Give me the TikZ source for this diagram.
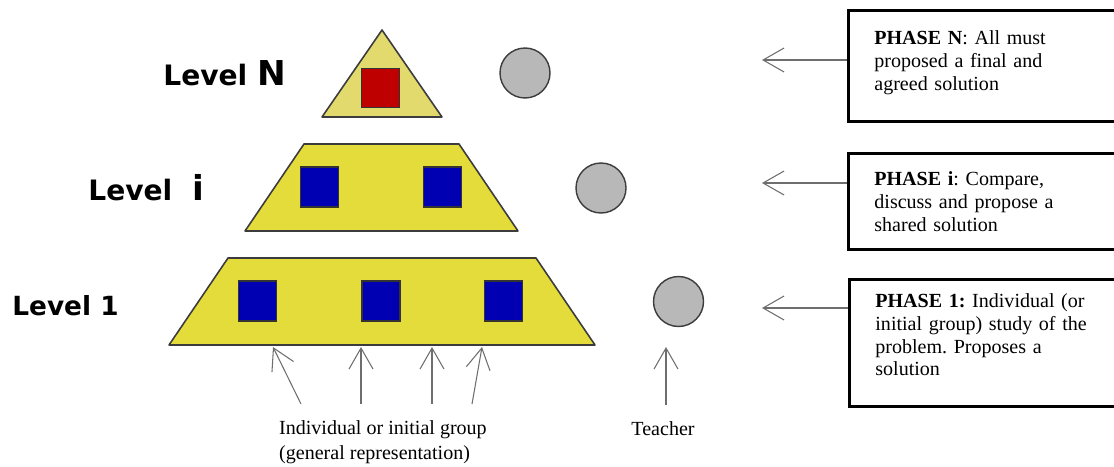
\documentclass[tikz,border=0pt]{standalone}
\usepackage{fontspec}
\setmainfont{Liberation Serif}
\newfontfamily\levelfont{DejaVu Sans}
\usetikzlibrary{arrows.meta}
\definecolor{pyryellow}{RGB}{228,220,58}
\definecolor{topyellow}{RGB}{226,218,108}
\definecolor{grpblue}{RGB}{0,0,178}
\definecolor{grpred}{RGB}{190,0,0}
\definecolor{tutorgray}{RGB}{184,184,184}
\definecolor{edgegray}{RGB}{60,60,60}
\definecolor{arrowgray}{RGB}{110,110,110}
\tikzset{
  level shape/.style={draw=edgegray, line width=0.9pt, line join=round},
  group box/.style={draw=black!80, fill=grpblue, line width=0.8pt, inner sep=0pt,
    minimum width=0.76cm, minimum height=0.8cm},
  tutor/.style={circle, draw=edgegray, fill=tutorgray, line width=0.8pt,
    inner sep=0pt, minimum size=1cm},
  phase box/.style={draw, line width=1.6pt, anchor=north west, align=left,
    text width=5.3cm, inner xsep=0.52cm, inner ysep=0pt,
    font=\frenchspacing\fontsize{11.4}{13}\selectfont},
  barb/.style={draw=arrowgray, line width=0.6pt,
    -{Straight Barb[length=4.2mm, width=4.8mm]}},
  level label/.style={anchor=base west, inner sep=0pt,
    font=\levelfont\bfseries\fontsize{16}{18}\selectfont},
}

\begin{document}
\begin{tikzpicture}[x=0.02cm, y=-0.02cm]
  \useasboundingbox (0,0) rectangle (1114,466);
  \clip (0,0) rectangle (1114,466);
  % pyramid levels
  \draw[level shape, fill=topyellow] (322,117) -- (382,30) -- (442,117) -- cycle;
  \draw[level shape, fill=pyryellow] (245,231) -- (304,144) -- (459,144) -- (518,231) -- cycle;
  \draw[level shape, fill=pyryellow] (169,345) -- (228,258) -- (536,258) -- (595,345) -- cycle;
  \node[group box, fill=grpred, minimum height=0.78cm] (gN) at (380.5,88) {};
  \node[group box] (gi1) at (319.5,187) {};
  \node[group box] (gi2) at (442.5,187) {};
  \foreach \x/\n in {257.5/1, 381/2, 503.5/3}{
    \node[group box] (g1\n) at (\x,301) {};
  }
  % teacher at each level
  \node[tutor] (tN) at (525,73) {};
  \node[tutor] (ti) at (601,188) {};
  \node[tutor] (t1) at (678.5,301.5) {};
  % level names
  \node[level label] (lvlN) at (163,86) {Level {\fontsize{19.5}{20}\selectfont N}};
  \node[level label] (lvli) at (88,200) {Level\hspace{0.2cm} {\fontsize{19.5}{20}\selectfont i}};
  \node[level label, font=\levelfont\bfseries\fontsize{15}{17}\selectfont] (lvl1) at (12,315) {Level 1};
  % phases
  \node[phase box, text height=0.68cm, text depth=1.54cm] (phN) at (847,9)
    {\textbf{PHASE N}: All must\\proposed a final and\\agreed solution};
  \node[phase box, text height=0.64cm, text depth=1.28cm] (phi) at (847,152)
    {\textbf{PHASE i}: Compare,\\discuss and propose a\\shared solution};
  \node[phase box, text height=0.56cm, text depth=1.98cm] (ph1) at (848,278)
    {\textbf{PHASE 1:} Individual (or\\initial group) study of the\\problem. Proposes a\\solution};
  \coordinate (aN) at (762,60);
  \coordinate (ai) at (762,183);
  \coordinate (a1) at (762,308);
  \draw[barb] (phN.west |- aN) -- (aN);
  \draw[barb] (phi.west |- ai) -- (ai);
  \draw[barb] (ph1.west |- a1) -- (a1);
  % inputs from below
  \node[anchor=base west, align=left, font=\fontsize{11.4}{14}\selectfont] (grp) at (273,459)
    {Individual or initial group\\(general representation)};
  \node[anchor=base, font=\fontsize{11.4}{14}\selectfont] (teach) at (663,435) {Teacher};
  \foreach \s/\e in {301/273, 361/361, 432/432, 472/482}{
    \draw[barb] (\s,404) -- (\e,347);
  }
  \coordinate (tbot) at (666,405);
  \coordinate (ttop) at (666,347);
  \draw[barb] (tbot) -- (ttop);
\end{tikzpicture}
\end{document}
